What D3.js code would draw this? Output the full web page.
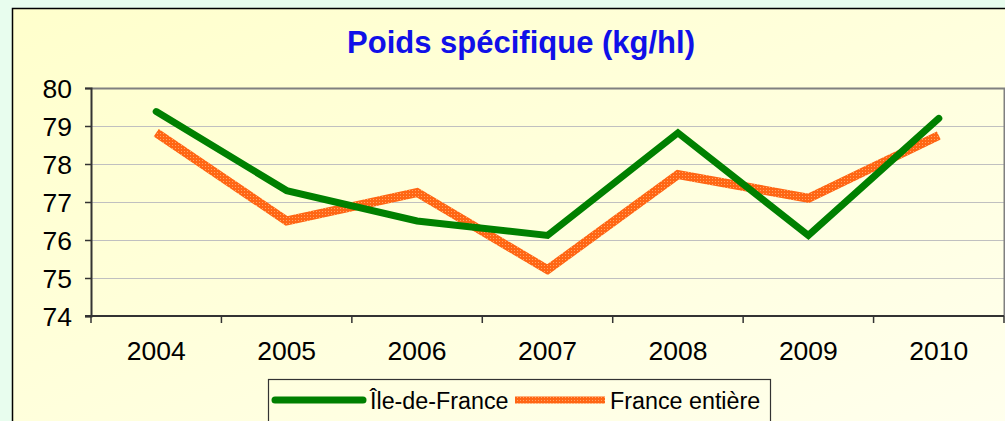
<!DOCTYPE html>
<html lang="fr">
<head>
<meta charset="utf-8">
<title>Poids spécifique</title>
<script src="https://d3js.org/d3.v7.min.js"></script>
<style>
  body { margin: 0; background: #e8fdee; overflow: hidden; }
  text { font-family: "Liberation Sans", Arial, sans-serif; }
</style>
</head>
<body>
<script>
// données
var years = ["2004", "2005", "2006", "2007", "2008", "2009", "2010"];
var idf = [79.38, 77.3, 76.5, 76.12, 78.82, 76.12, 79.2];
var france = [78.82, 76.5, 77.25, 75.22, 77.72, 77.1, 78.75];
var yTicks = [74, 75, 76, 77, 78, 79, 80];

var width = 1005, height = 421;
var m = { left: 91, top: 88, right: 1004, bottom: 316 };

var svg = d3.select("body").append("svg")
    .attr("width", width)
    .attr("height", height);

var defs = svg.append("defs");
var grad = defs.append("linearGradient")
    .attr("id", "bg").attr("x1", "0").attr("y1", "0").attr("x2", "1").attr("y2", "1");
grad.append("stop").attr("offset", "0").attr("stop-color", "#ffffcc");
grad.append("stop").attr("offset", "1").attr("stop-color", "#fffff2");

// motif pointillé de la ligne orange
var pat = defs.append("pattern")
    .attr("id", "dots").attr("patternUnits", "userSpaceOnUse")
    .attr("width", 3).attr("height", 3);
pat.append("rect").attr("width", 3).attr("height", 3).attr("fill", "#ff6614");
pat.append("rect").attr("x", 1).attr("y", 1).attr("width", 1).attr("height", 1).attr("fill", "#ffa466");

// cadre du graphique
svg.append("rect")
    .attr("x", 12.5).attr("y", 8.5)
    .attr("width", 1100).attr("height", 500)
    .attr("fill", "url(#bg)")
    .attr("stroke", "#000").attr("stroke-width", 1.5);

svg.append("text")
    .attr("x", 521).attr("y", 53)
    .attr("text-anchor", "middle")
    .attr("font-size", "31px").attr("font-weight", "bold")
    .attr("fill", "#1010e8")
    .text("Poids spécifique (kg/hl)");

var x = d3.scaleBand().domain(years).range([m.left, m.right]);
var y = d3.scaleLinear().domain([74, 80]).range([m.bottom, m.top]);

// grille
svg.append("g").selectAll("line")
    .data(yTicks.slice(1, -1))
    .enter().append("line")
    .attr("x1", m.left).attr("x2", m.right)
    .attr("y1", function(d) { return y(d) + 0.5; })
    .attr("y2", function(d) { return y(d) + 0.5; })
    .attr("stroke", "#c0c0c0").attr("stroke-width", 1.2);

// bord haut et droit
svg.append("path")
    .attr("d", "M" + m.left + "," + (m.top + 0.5) + "H" + (m.right + 0.5) + "V" + m.bottom)
    .attr("fill", "none").attr("stroke", "#808080").attr("stroke-width", 2);

// axe Y
var yAxis = svg.append("g")
    .attr("transform", "translate(" + m.left + ",0)")
    .call(d3.axisLeft(y).tickValues(yTicks).tickSize(6).tickPadding(13).tickFormat(d3.format("d")));
yAxis.select(".domain").attr("stroke", "#333").attr("stroke-width", 2);
yAxis.selectAll(".tick line").attr("stroke", "#333").attr("stroke-width", 1.5);
yAxis.selectAll("text").attr("font-size", "26.5px").attr("fill", "#000").attr("dy", "0.36em");

// axe X (graduations entre les catégories)
var xAxis = svg.append("g")
    .attr("transform", "translate(0," + m.bottom + ")");
xAxis.append("line")
    .attr("x1", m.left - 6).attr("x2", m.right)
    .attr("stroke", "#333").attr("stroke-width", 2);
xAxis.selectAll(".tk")
    .data(years.concat(["end"]))
    .enter().append("line")
    .attr("x1", function(d, i) { return m.left + i * x.step(); })
    .attr("x2", function(d, i) { return m.left + i * x.step(); })
    .attr("y1", 0).attr("y2", 7)
    .attr("stroke", "#333").attr("stroke-width", 1.5);
xAxis.selectAll(".lbl")
    .data(years)
    .enter().append("text")
    .attr("x", function(d) { return x(d) + x.bandwidth() / 2; })
    .attr("y", 44)
    .attr("text-anchor", "middle")
    .attr("font-size", "26.5px")
    .attr("fill", "#000")
    .text(function(d) { return d; });

var line = d3.line()
    .x(function(d, i) { return x(years[i]) + x.bandwidth() / 2; })
    .y(function(d) { return y(d); });

svg.append("path")
    .datum(france)
    .attr("d", line)
    .attr("fill", "none")
    .attr("stroke", "url(#dots)")
    .attr("stroke-width", 9)
    .attr("stroke-linejoin", "miter");

svg.append("path")
    .datum(idf)
    .attr("d", line)
    .attr("fill", "none")
    .attr("stroke", "#008000")
    .attr("stroke-width", 7)
    .attr("stroke-linecap", "round")
    .attr("stroke-linejoin", "miter");

// légende
var leg = svg.append("g");
leg.append("rect")
    .attr("x", 268.5).attr("y", 379.5)
    .attr("width", 502).attr("height", 60)
    .attr("fill", "none").attr("stroke", "#333").attr("stroke-width", 1.2);
leg.append("line")
    .attr("x1", 275).attr("x2", 363).attr("y1", 400).attr("y2", 400)
    .attr("stroke", "#008000").attr("stroke-width", 7).attr("stroke-linecap", "round");
leg.append("text")
    .attr("x", 370).attr("y", 409)
    .attr("font-size", "23.3px").attr("fill", "#000")
    .text("Île-de-France");
leg.append("line")
    .attr("x1", 515).attr("x2", 605).attr("y1", 400).attr("y2", 400)
    .attr("stroke", "url(#dots)").attr("stroke-width", 7);
leg.append("text")
    .attr("x", 610).attr("y", 409)
    .attr("font-size", "23.3px").attr("fill", "#000")
    .text("France entière");
</script>
</body>
</html>
